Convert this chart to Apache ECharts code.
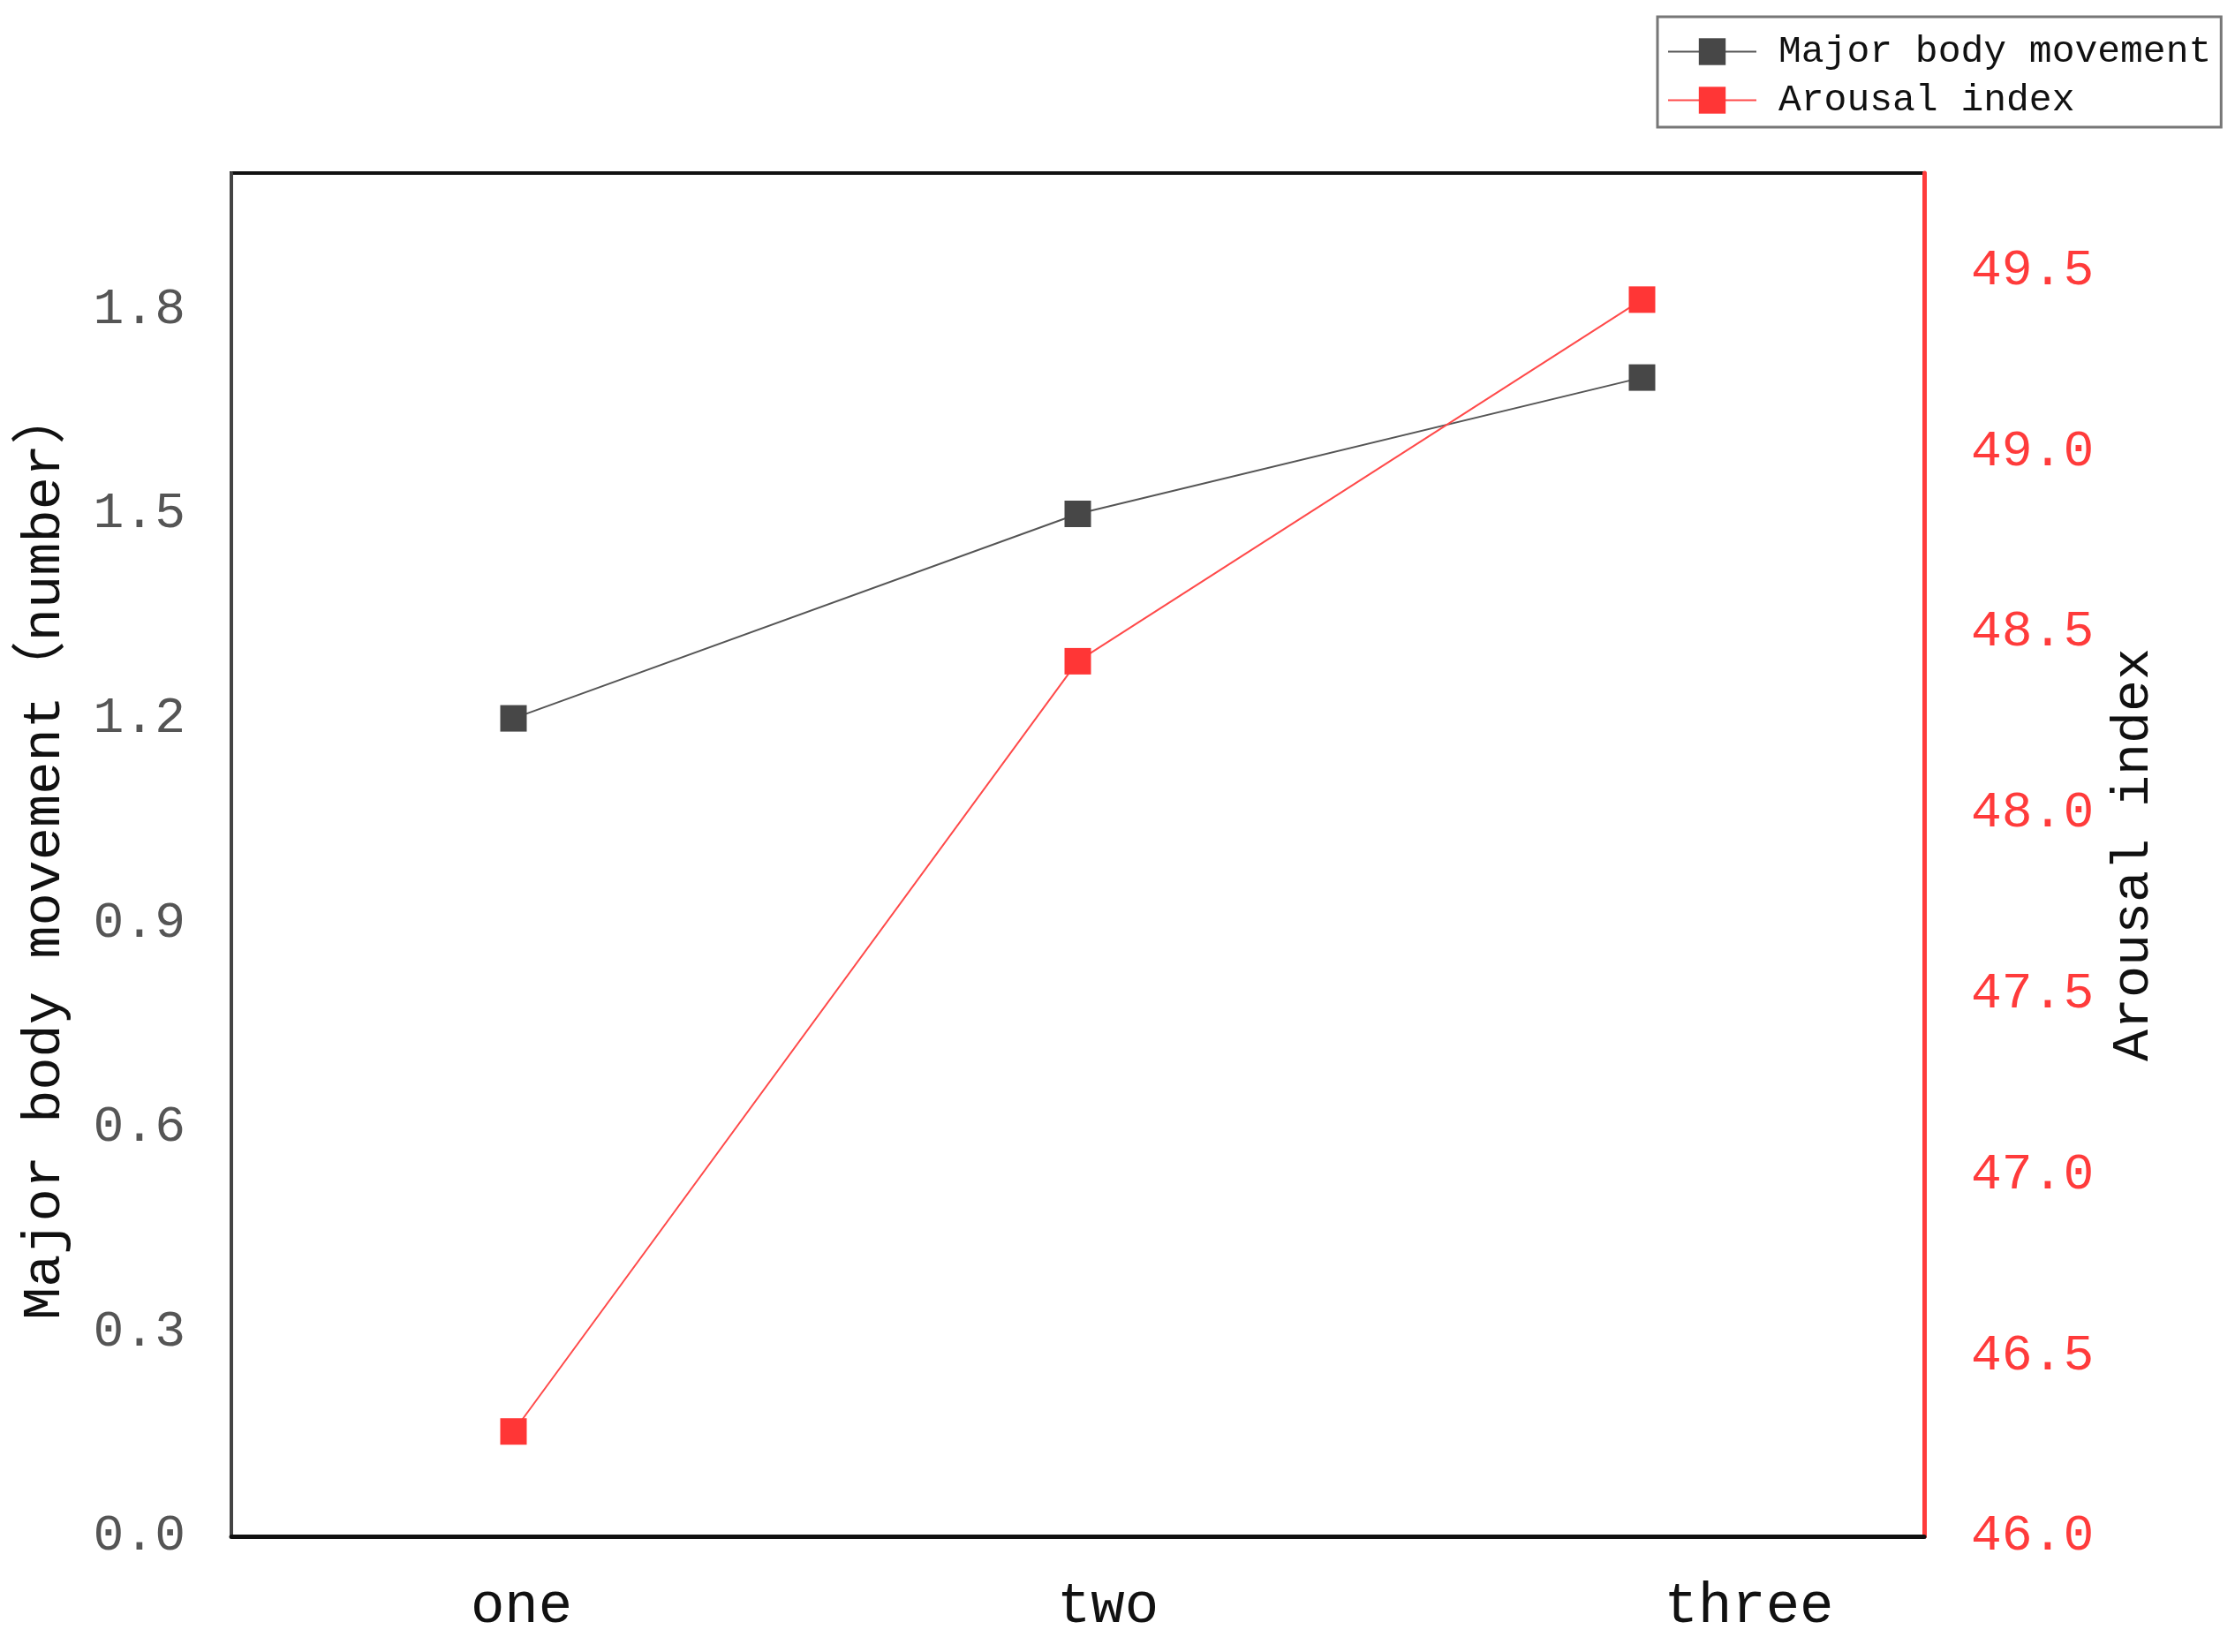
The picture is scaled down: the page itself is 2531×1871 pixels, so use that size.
<!DOCTYPE html>
<html>
<head>
<meta charset="utf-8">
<script src="https://cdn.jsdelivr.net/npm/echarts@6/dist/echarts.min.js"></script>
<style>
  html, body { margin: 0; padding: 0; background: #fff; }
  #chart { width: 2531px; height: 1871px; }
</style>
</head>
<body>
<div id="chart"></div>
<script>
// data
const categories = ['one', 'two', 'three'];
const bodyMovement = [1.2, 1.5, 1.7];
const arousalIndex = [46.29, 48.42, 49.42];

const FONT = "'Liberation Mono', 'Noto Sans CJK SC', monospace";

// labels sit a bit right of their points in the original
const labelShift = { one: 18, two: 68, three: 242 };

let chart = echarts.init(document.getElementById('chart'));

let option = {
  backgroundColor: '#fff',
  animation: false,
  grid: {
    left: 262, right: 352, top: 196, bottom: 131,
    show: true,
    borderColor: '#111',
    borderWidth: 4
  },
  legend: {
    orient: 'vertical',
    left: 1877,
    top: 19,
    padding: [18, 11, 9, 11],
    itemWidth: 100,
    itemHeight: 38,
    itemGap: 12,
    borderColor: '#777',
    borderWidth: 3,
    textStyle: {
      fontFamily: FONT,
      fontSize: 43,
      color: '#111',
      padding: [0, 0, 0, 20]
    },
    data: ['Major body movement', 'Arousal index']
  },
  xAxis: {
    type: 'category',
    data: categories,
    boundaryGap: true,
    axisLine: { lineStyle: { color: '#111', width: 5 } },
    axisTick: { show: false },
    axisLabel: {
      margin: 48,
      formatter: function (v) { return '{' + v + '|' + v + '}'; },
      rich: {
        one: { fontFamily: FONT, fontSize: 64, color: '#111', padding: [0, 0, 0, labelShift.one] },
        two: { fontFamily: FONT, fontSize: 64, color: '#111', padding: [0, 0, 0, labelShift.two] },
        three: { fontFamily: FONT, fontSize: 64, color: '#111', padding: [0, 0, 0, labelShift.three] }
      }
    },
    splitLine: { show: false }
  },
  yAxis: [
    {
      type: 'value',
      position: 'left',
      min: 0,
      max: 2.0,
      interval: 0.3,
      name: 'Major body movement（number）',
      nameLocation: 'middle',
      nameGap: 180,
      nameRotate: 90,
      nameTextStyle: { fontFamily: FONT, fontSize: 62, color: '#111' },
      axisLine: { show: true, lineStyle: { color: '#444', width: 4 } },
      axisTick: { show: false },
      splitLine: { show: false },
      axisLabel: {
        margin: 52,
        showMaxLabel: false,
        fontFamily: FONT,
        fontSize: 58,
        color: '#555',
        formatter: function (v) { return v.toFixed(1); }
      }
    },
    {
      type: 'value',
      position: 'right',
      min: 46,
      max: 49.77,
      interval: 0.5,
      name: 'Arousal index',
      nameLocation: 'middle',
      nameGap: 207,
      nameRotate: 90,
      nameTextStyle: { fontFamily: FONT, fontSize: 60, color: '#111' },
      axisLine: { show: true, lineStyle: { color: '#ff3b3b', width: 5 } },
      axisTick: { show: false },
      splitLine: { show: false },
      axisLabel: {
        margin: 53,
        showMaxLabel: false,
        fontFamily: FONT,
        fontSize: 58,
        color: '#ff3b3b',
        formatter: function (v) { return v.toFixed(1); }
      }
    }
  ],
  series: [
    {
      name: 'Major body movement',
      type: 'line',
      yAxisIndex: 0,
      data: bodyMovement,
      symbol: 'rect',
      symbolSize: 30,
      itemStyle: { color: '#474747' },
      lineStyle: { color: '#555', width: 2 }
    },
    {
      name: 'Arousal index',
      type: 'line',
      yAxisIndex: 1,
      data: arousalIndex,
      symbol: 'rect',
      symbolSize: 30,
      itemStyle: { color: '#ff3636' },
      lineStyle: { color: '#ff4a4a', width: 2 }
    }
  ]
};

chart.setOption(option);
window.addEventListener('resize', function () {
  chart.resize();
});
</script>
</body>
</html>
